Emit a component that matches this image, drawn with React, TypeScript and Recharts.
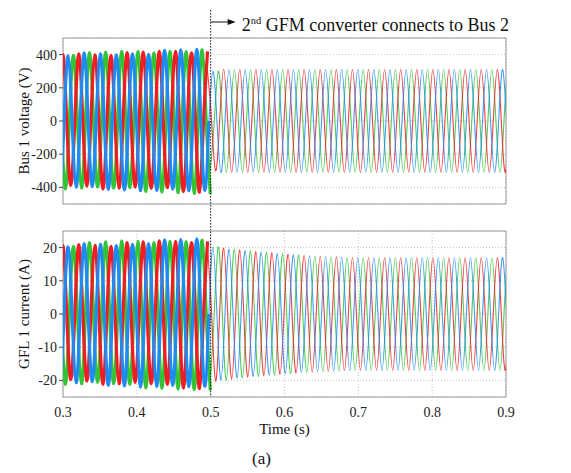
import {
  LineChart,
  Line,
  XAxis,
  YAxis,
  CartesianGrid,
  ReferenceLine,
  ReferenceArea,
} from 'recharts';

const FONT = '"Liberation Serif", "Times New Roman", serif';

// axes
const timeTicks = [0.3, 0.4, 0.5, 0.6, 0.7, 0.8, 0.9];
const voltTicks = [-400, -200, 0, 200, 400];
const currTicks = [-20, -10, 0, 10, 20];

// waveform timing
const PERIOD = 0.0218; // s, crest-to-crest of one phase
const RED_CREST = 0.5394; // s, a crest of the red phase after connection
const CONNECT_T = 0.5; // s, 2nd GFM converter connects
const START_T = 0.29;
const END_T = 0.91;

// red, blue, green: fraction of a period each phase lags the red one
const phaseLag = [0, 1 / 3, 2 / 3];
// value at quarter-period steps: crest, zero, trough, zero
const crestShape = [1, 0, -1, 0];

// half-cycle crest magnitudes, before and after 0.5 s (last value = steady state)
const voltPre = [400, 388, 405, 392, 398, 410, 395, 404, 412, 398, 415, 405, 420, 402, 418, 425, 410, 428, 420, 432, 418, 436, 428, 440];
const voltPost = [300, 312, 310];
const currPre = [20.6, 19.8, 20.9, 20.2, 20.7, 21.2, 20.4, 21.0, 21.5, 20.6, 21.7, 21.0, 22.0, 21.2, 21.8, 22.3, 21.5, 22.4, 21.9, 22.6, 21.8, 22.8, 22.2, 23.0];
const currPost = [20.2, 19.9, 19.6, 19.3, 19.0, 18.8, 18.6, 18.4, 18.2, 18.0, 17.8, 17.6, 17.5, 17.4, 17.3, 17.2, 17.1, 17.0];

const COLORS = ['#ef1c24', '#1f8af2', '#34c334'];
const DRAW_ORDER = [2, 0, 1];

interface Pt {
  t: number;
  v: number;
}

function trace(phase: number, crests: number[], from: number, to: number, shift: number): Pt[] {
  const q = PERIOD / 4;
  const t0 = RED_CREST + phaseLag[phase] * PERIOD;
  const kStart = Math.floor((from - t0) / q);
  const kEnd = Math.floor((to - t0) / q);
  const pts: Pt[] = [];
  for (let k = kStart; k <= kEnd; k++) {
    const t = t0 + k * q;
    const idx = Math.min(crests.length - 1, Math.max(0, Math.floor((t - from) / (PERIOD / 2)) + shift));
    pts.push({ t, v: crestShape[((k % 4) + 4) % 4] * crests[idx] });
  }
  return pts;
}

const serif = { fontFamily: FONT };

function YTick(props: any) {
  const { x, y, payload } = props;
  return (
    <text x={x} y={y} dy="0.355em" textAnchor="end" fontSize={14} style={serif} fill="#222">
      {payload.value}
    </text>
  );
}

function XTick(props: any) {
  const { x, y, payload } = props;
  return (
    <text x={x} y={y} dy="0.71em" textAnchor="middle" fontSize={14} style={serif} fill="#222">
      {Number(payload.value).toFixed(1)}
    </text>
  );
}

function YTitle({ viewBox, text }: { viewBox?: any; text: string }) {
  const cx = (viewBox?.x ?? 0) + 29;
  const cy = (viewBox?.y ?? 0) + (viewBox?.height ?? 0) / 2;
  return (
    <text
      x={cx}
      y={cy}
      transform={`rotate(-90 ${cx} ${cy})`}
      textAnchor="middle"
      fontSize={15}
      style={serif}
      fill="#111"
    >
      {text}
    </text>
  );
}

function XTitle({ viewBox }: { viewBox?: any }) {
  const x = viewBox?.x ?? 63;
  const y = viewBox?.y ?? 397;
  const w = viewBox?.width ?? 443;
  return (
    <g style={serif} fill="#111">
      <text x={x + w / 2} y={y + 37} textAnchor="middle" fontSize={15}>
        Time (s)
      </text>
      <text x={x + w / 2 - 23} y={y + 67} textAnchor="middle" fontSize={17}>
        (a)
      </text>
    </g>
  );
}

function ConnectNote({ viewBox }: { viewBox?: any }) {
  const x = viewBox?.x ?? 211;
  return (
    <g style={serif}>
      <line x1={x} y1={22} x2={x + 18} y2={22} stroke="#111" strokeWidth={1} />
      <polygon points={`${x + 17},19 ${x + 25},22 ${x + 17},25`} fill="#111" />
      <text x={x + 31} y={30.5} fontSize={18} fill="#111">
        2
        <tspan fontSize={10.5} dy={-7}>
          nd
        </tspan>
        <tspan dy={7}> GFM converter connects to Bus 2</tspan>
      </text>
    </g>
  );
}

function Panel({
  pre,
  post,
  yMax,
  yTicks,
  title,
  bottom,
}: {
  pre: number[];
  post: number[];
  yMax: number;
  yTicks: number[];
  title: string;
  bottom: boolean;
}) {
  return (
    <LineChart
      width={571}
      height={bottom ? 243 : 230}
      margin={bottom ? { top: 1, right: 65, bottom: 0, left: 0 } : { top: 38, right: 65, bottom: 26, left: 0 }}
      style={serif}
    >
      <CartesianGrid stroke="#c4c4c4" strokeDasharray="1 2" />
      <XAxis
        dataKey="t"
        type="number"
        domain={[0.3, 0.9]}
        allowDataOverflow
        ticks={timeTicks}
        tick={bottom ? <XTick /> : false}
        tickSize={0}
        tickMargin={10}
        axisLine={false}
        height={bottom ? 76 : 0}
        label={bottom ? <XTitle /> : undefined}
      />
      <YAxis
        type="number"
        domain={[-yMax, yMax]}
        allowDataOverflow
        ticks={yTicks}
        tick={<YTick />}
        tickSize={4}
        tickMargin={2}
        tickLine={{ stroke: '#444' }}
        axisLine={false}
        width={63}
        label={<YTitle text={title} />}
      />
      {DRAW_ORDER.map((p) => (
        <Line
          key={`pre${p}`}
          data={trace(p, pre, START_T, CONNECT_T, p * 2)}
          dataKey="v"
          type="natural"
          stroke={COLORS[p]}
          strokeWidth={3.2}
          dot={false}
          activeDot={false}
          isAnimationActive={false}
        />
      ))}
      {DRAW_ORDER.map((p) => (
        <Line
          key={`post${p}`}
          data={trace(p, post, CONNECT_T, END_T, 0)}
          dataKey="v"
          type="natural"
          stroke={COLORS[p]}
          strokeWidth={1.1}
          strokeOpacity={0.85}
          dot={false}
          activeDot={false}
          isAnimationActive={false}
        />
      ))}
      <ReferenceArea x1={0.3} x2={0.9} y1={-yMax} y2={yMax} fill="none" stroke="#9a9a9a" strokeWidth={1} />
      {bottom ? (
        <ReferenceLine
          segment={[
            { x: CONNECT_T, y: yMax * 1.1 },
            { x: CONNECT_T, y: -yMax },
          ]}
          stroke="#111"
          strokeDasharray="1.5 1.5"
          ifOverflow="visible"
        />
      ) : (
        <ReferenceLine
          segment={[
            { x: CONNECT_T, y: yMax * 1.336 },
            { x: CONNECT_T, y: -yMax * 1.5 },
          ]}
          stroke="#111"
          strokeDasharray="1.5 1.5"
          ifOverflow="visible"
          label={<ConnectNote />}
        />
      )}
    </LineChart>
  );
}

export default function App() {
  return (
    <div
      style={{
        position: 'absolute',
        left: 0,
        top: 0,
        width: 571,
        height: 473,
        background: '#fff',
        fontFamily: FONT,
      }}
    >
      <div style={{ position: 'absolute', left: 0, top: 0 }}>
        <Panel pre={voltPre} post={voltPost} yMax={500} yTicks={voltTicks} title="Bus 1 voltage (V)" bottom={false} />
      </div>
      <div style={{ position: 'absolute', left: 0, top: 230 }}>
        <Panel pre={currPre} post={currPost} yMax={25} yTicks={currTicks} title="GFL 1 current (A)" bottom={true} />
      </div>
    </div>
  );
}
